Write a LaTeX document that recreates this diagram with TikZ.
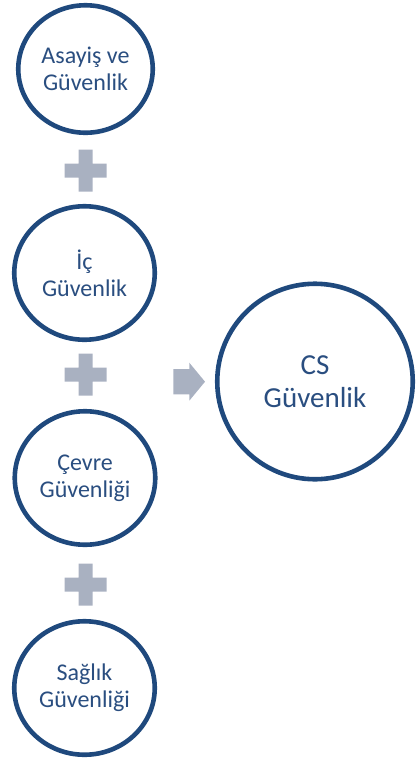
\documentclass[tikz,border=0pt]{standalone}
\usepackage{fontspec}
\setmainfont{Carlito}
\usepackage{tikz}
\usetikzlibrary{positioning,calc,shapes.geometric}

\definecolor{ringblue}{HTML}{1F497D}
\definecolor{textblue}{HTML}{2A4E80}
\definecolor{signgray}{HTML}{A9B1C1}

\tikzset{
    ring/.style={ellipse,draw=ringblue,line width=4.6pt,fill=white,inner sep=0pt,
        align=center,text=textblue,font=\fontsize{24}{26.7}\selectfont},
    bigring/.style={ring,minimum size=195.5pt,font=\fontsize{29}{33}\selectfont},
    sign/.style={fill=signgray}
}

\begin{document}
\begin{tikzpicture}[x=1pt,y=-1pt]
    \useasboundingbox (0,0) rectangle (416,764);
    \node[ring,minimum width=134.5pt,minimum height=127.5pt] (asayis) at (85.5,69) {Asayiş ve\\Güvenlik};
    \node[ring,minimum width=140.5pt,minimum height=133.5pt] (ic) at (84.5,273) {İç\\Güvenlik};
    \node[ring,minimum width=140.5pt,minimum height=133.5pt] (cevre) at (85,478) {Çevre\\Güvenliği};
    \node[ring,minimum width=140.5pt,minimum height=133.5pt] (saglik) at (84.5,688) {Sağlık\\Güvenliği};
    \node[bigring] (cs) at (315,381.5) {CS\\Güvenlik};
    % plus signs between the rings
    \foreach \y in {170.5,374.5,584.7}
        \fill[sign,shift={(85.5,\y)}] (-7,-21) rectangle (7,21) (-21,-7) rectangle (21,7);
    % arrow towards the result
    \fill[sign] (173.3,369) -- (189.3,369) -- (189.3,362.7) -- (205,381.7) -- (189.3,400.7) -- (189.3,394.3) -- (173.3,394.3) -- cycle;
\end{tikzpicture}
\end{document}
